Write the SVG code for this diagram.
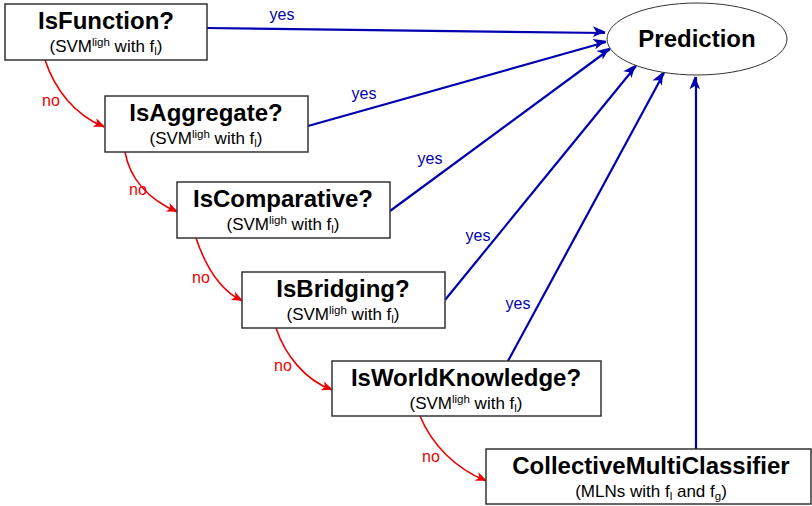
<svg xmlns="http://www.w3.org/2000/svg" width="812" height="506" viewBox="0 0 812 506">
<defs>
<style>
.box{fill:#fff;stroke:#333;stroke-width:1.5}
.t{font-family:"Liberation Sans",Arial,sans-serif;font-weight:bold;font-size:24px;text-anchor:middle;fill:#000}
.s{font-family:"Liberation Sans",Arial,sans-serif;font-size:17px;text-anchor:middle;fill:#000}
.sup{font-size:11.5px}
.yes{stroke:#0000b0;stroke-width:2.2;fill:none;marker-end:url(#ab)}
.no{stroke:#ee0000;stroke-width:1.6;fill:none;marker-end:url(#ar)}
.ly{font-family:"Liberation Sans",Arial,sans-serif;font-size:16px;fill:#0000b0;text-anchor:middle}
.ln{font-family:"Liberation Sans",Arial,sans-serif;font-size:16px;fill:#ee0000;text-anchor:middle}
</style>
<marker id="ab" viewBox="0 0 12 10" refX="11" refY="5" markerWidth="8" markerHeight="7" markerUnits="userSpaceOnUse" orient="auto" overflow="visible">
<path d="M0,0 L12,5 L0,10 L3,5 z" fill="#0000b0" transform="scale(1.6) translate(-4.5,-3)"/>
</marker>
<marker id="ar" viewBox="0 0 12 10" refX="11" refY="5" markerWidth="8" markerHeight="7" markerUnits="userSpaceOnUse" orient="auto" overflow="visible">
<path d="M0,0 L12,5 L0,10 L3,5 z" fill="#ee0000" transform="scale(1.4) translate(-3.3,-2)"/>
</marker>
</defs>
<g id="connectors">
<line class="yes" x1="207" y1="28" x2="605" y2="33"/>
<line class="yes" x1="308" y1="126" x2="606" y2="42"/>
<line class="yes" x1="390" y1="211" x2="610" y2="49"/>
<line class="yes" x1="445" y1="300" x2="636" y2="66"/>
<line class="yes" x1="508" y1="361" x2="664" y2="73"/>
<line class="yes" x1="696" y1="449" x2="696" y2="77"/>
<path class="no" d="M45,60 C55,90 75,115 104,127"/>
<path class="no" d="M125,152 C130,180 150,200 177,212"/>
<path class="no" d="M196,238 C205,265 220,290 242,301"/>
<path class="no" d="M276,328 C285,355 305,380 332,390"/>
<path class="no" d="M420,416 C432,445 455,468 486,481"/>
<text class="ly" x="282" y="20">yes</text>
<text class="ly" x="364" y="99">yes</text>
<text class="ly" x="430" y="164">yes</text>
<text class="ly" x="478" y="241">yes</text>
<text class="ly" x="518" y="309">yes</text>
<text class="ln" x="51" y="106">no</text>
<text class="ln" x="138" y="195">no</text>
<text class="ln" x="201" y="283">no</text>
<text class="ln" x="283" y="371">no</text>
<text class="ln" x="431" y="462">no</text>
</g>
<g id="prediction">
<ellipse cx="697" cy="39" rx="90" ry="36" fill="#fff" stroke="#333" stroke-width="1"/>
<text class="t" x="697" y="47">Prediction</text>
</g>
<g id="isfunction">
<rect class="box" x="5" y="4" width="202" height="56"/>
<text class="t" x="106" y="29">IsFunction?</text>
<text class="s" x="106" y="52">(SVM<tspan class="sup" dy="-6">ligh</tspan><tspan dy="6"> with f</tspan><tspan class="sup" dy="3">l</tspan><tspan dy="-3">)</tspan></text>
</g>
<g id="isaggregate">
<rect class="box" x="105" y="96" width="203" height="56"/>
<text class="t" x="206" y="121">IsAggregate?</text>
<text class="s" x="206" y="144">(SVM<tspan class="sup" dy="-6">ligh</tspan><tspan dy="6"> with f</tspan><tspan class="sup" dy="3">l</tspan><tspan dy="-3">)</tspan></text>
</g>
<g id="iscomparative">
<rect class="box" x="177" y="182" width="213" height="56"/>
<text class="t" x="283" y="207">IsComparative?</text>
<text class="s" x="283" y="230">(SVM<tspan class="sup" dy="-6">ligh</tspan><tspan dy="6"> with f</tspan><tspan class="sup" dy="3">l</tspan><tspan dy="-3">)</tspan></text>
</g>
<g id="isbridging">
<rect class="box" x="242" y="272" width="203" height="56"/>
<text class="t" x="343" y="297">IsBridging?</text>
<text class="s" x="343" y="320">(SVM<tspan class="sup" dy="-6">ligh</tspan><tspan dy="6"> with f</tspan><tspan class="sup" dy="3">l</tspan><tspan dy="-3">)</tspan></text>
</g>
<g id="isworldknowledge">
<rect class="box" x="332" y="361" width="269" height="55"/>
<text class="t" x="466" y="386">IsWorldKnowledge?</text>
<text class="s" x="466" y="409">(SVM<tspan class="sup" dy="-6">ligh</tspan><tspan dy="6"> with f</tspan><tspan class="sup" dy="3">l</tspan><tspan dy="-3">)</tspan></text>
</g>
<g id="collective">
<rect class="box" x="486" y="449" width="325" height="55"/>
<text class="t" x="651" y="474">CollectiveMultiClassifier</text>
<text class="s" x="651" y="497">(MLNs with f<tspan class="sup" dy="3">l</tspan><tspan dy="-3"> and f</tspan><tspan class="sup" dy="3">g</tspan><tspan dy="-3">)</tspan></text>
</g>
</svg>
